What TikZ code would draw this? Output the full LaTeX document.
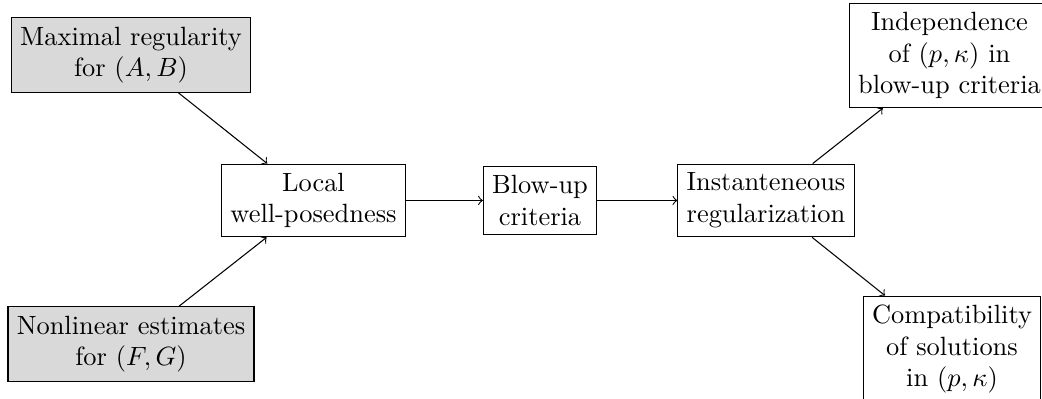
\documentclass[tikz,border=0pt]{standalone}
\begin{document}
\begin{tikzpicture}[box/.style={draw, align=center}, given/.style={box, fill=gray!30}]
      \useasboundingbox (0,0) rectangle (13.873,5.299);
      \draw
        (1.744,4.567) node[given] (mr){Maximal regularity\\ for $(A,B)$}
        (1.744,0.719) node[given] (ne){Nonlinear estimates\\ for $(F,G)$}
        (4.174,2.630) node[box] (lwp){Local\\ well-posedness}
        (7.190,2.630) node[box] (bu){Blow-up\\ criteria}
        (10.198,2.630) node[box] (ir){Instanteneous\\ regularization}
        (12.641,4.560) node[box] (ind){Independence\\ of $(p,\kappa)$ in\\ blow-up criteria}
        (12.675,0.650) node[box] (comp){Compatibility\\ of solutions\\ in $(p,\kappa)$};
      \begin{scope}[->]
        \draw (mr) to (lwp);
        \draw (ne) to (lwp);
        \draw (lwp) to (bu);
        \draw (bu) to (ir);
        \draw (ir) to (ind);
        \draw (ir) to (comp);
      \end{scope}
    \end{tikzpicture}
\end{document}
